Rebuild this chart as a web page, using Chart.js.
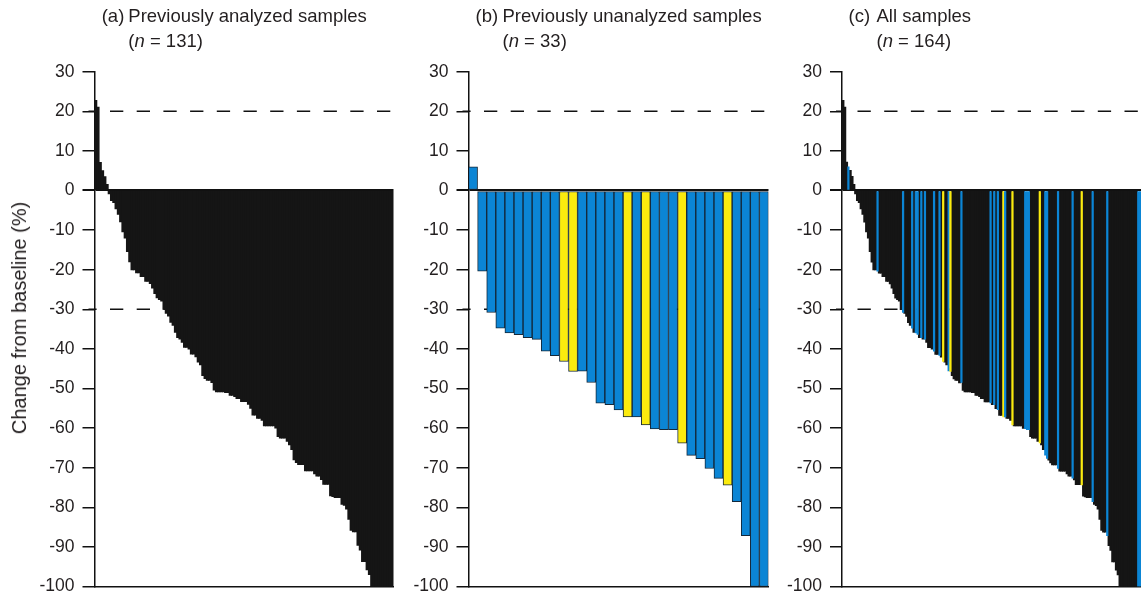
<!DOCTYPE html>
<html>
<head>
<meta charset="utf-8">
<title>Waterfall plots</title>
<script src="https://cdn.jsdelivr.net/npm/chart.js@4.4.1/dist/chart.umd.min.js"></script>
<style>
    html, body { margin: 0; padding: 0; background: #fff; }
    #wrap { position: relative; width: 1141px; height: 605px; overflow: hidden;
            font-family: 'Liberation Sans', Arial, sans-serif; color: #231f20; }
    canvas { position: absolute; top: 0; }
    .ttl { position: absolute; top: 2.6px; font-size: 18.5px; line-height: 25px; white-space: nowrap; }
    #ytitle { position: absolute; left: 19px; top: 318px; font-size: 20px; line-height: 22px; white-space: nowrap;
              transform: translate(-50%, -50%) rotate(-90deg); }
</style>
</head>
<body>
<div id="wrap">
    <canvas id="panel-a" width="400" height="605" style="left:0px"></canvas>
    <canvas id="panel-b" width="400" height="605" style="left:374px"></canvas>
    <canvas id="panel-c" width="393" height="605" style="left:748px"></canvas>

    <div class="ttl" style="left:101.7px">(a)</div>
    <div class="ttl" style="left:128.3px">Previously analyzed samples<br>(<i>n</i> = <span id="n-a"></span>)</div>
    <div class="ttl" style="left:475.5px">(b)</div>
    <div class="ttl" style="left:502.5px">Previously unanalyzed samples<br>(<i>n</i> = <span id="n-b"></span>)</div>
    <div class="ttl" style="left:848.5px">(c)</div>
    <div class="ttl" style="left:876.5px">All samples<br>(<i>n</i> = <span id="n-c"></span>)</div>
    <div id="ytitle">Change from baseline (%)</div>
</div>

<script>
// change from baseline (%), one value per sample
const prevAnalyzed = [
    22.7, 21, 7.1, 5, 3.5, 1.5, -0.8, -2.5, -3, -4.6,
    -6, -7.9, -10.4, -12, -15.4, -18, -20, -20, -20.8, -20.8,
    -21.7, -21.7, -22.9, -22.9, -23.5, -24.6, -26, -27.1, -27.5, -27.9,
    -30, -31, -31.7, -33.3, -34, -35.8, -37.1, -37.5, -38.3, -39.6,
    -39.6, -40, -41.3, -41.3, -42, -43.3, -44, -46.7, -47.5, -47.9,
    -47.9, -48.5, -50.4, -50.8, -50.8, -50.8, -50.8, -51, -51, -51.7,
    -51.7, -52, -52.5, -52.5, -53.3, -53.3, -53.3, -54, -55, -56.7,
    -56.7, -57.5, -57.5, -58, -59.4, -59.4, -59.4, -59.4, -59.4, -60,
    -62.1, -62.5, -62.5, -62.5, -63.3, -64.2, -65.4, -68, -68.7, -69.2,
    -69.2, -69.2, -70.8, -70.8, -70.8, -70.8, -71.5, -72.1, -72.1, -73,
    -74.2, -74.2, -74.2, -77.1, -77.3, -77.5, -77.5, -77.5, -79.2, -79.5,
    -80.4, -83, -85.8, -86.2, -86.2, -89.6, -90.8, -93.7, -93.7, -95.8,
    -97, -100, -100, -100, -100, -100, -100, -100, -100, -100,
    -100
];

const prevUnanalyzed = [
    6, -20.4, -30.8, -34.8, -36, -36.4, -37.2, -37.6, -40.6, -41.7,
    -43.2, -45.7, -45.6, -48.5, -53.7, -54.1, -55.4, -57.2, -57.2, -59.2,
    -60.2, -60.4, -60.4, -63.8, -66.9, -67.7, -70.2, -72.7, -74.4, -78.6,
    -87.2, -100, -100
];

// positions (1-based) of the yellow samples in panel (b)
const yellowSamples = [11, 12, 18, 20, 24, 29];

const yAxisRange = { min: -100, max: 30, step: 10 };
const refLines = [20, -30];

const FONT = "'Liberation Sans', Arial, sans-serif";
const INK = '#231f20';
const COLORS = { a: '#151515', b: '#0b85d5', y: '#fbeb0e' };

// panel (c): both groups together, sorted from best to worst
const allSamples = prevAnalyzed.map(v => ({ v: v, group: 'a' }))
    .concat(prevUnanalyzed.map((v, i) => ({ v: v, group: yellowSamples.includes(i + 1) ? 'y' : 'b' })))
    .sort((p, q) => q.v - p.v);

const refLinePlugin = {
    id: 'refLines',
    beforeDatasetsDraw(chart) {
        const { ctx, chartArea, scales } = chart;
        ctx.save();
        ctx.strokeStyle = '#111';
        ctx.lineWidth = 1.5;
        ctx.setLineDash([13.3, 13.4]);
        ctx.lineDashOffset = 5.2;
        refLines.forEach(v => {
            const py = scales.y.getPixelForValue(v);
            ctx.beginPath();
            ctx.moveTo(chartArea.left - 6, py);
            ctx.lineTo(chartArea.right + 4, py);
            ctx.stroke();
        });
        ctx.restore();
    }
};

function barSet(values, colors, extra) {
    return {
        data: values,
        backgroundColor: colors,
        borderColor: extra.borderColor || colors,
        borderWidth: extra.borderWidth || 0,
        borderSkipped: false,
        inflateAmount: extra.inflate,
        barPercentage: 1,
        categoryPercentage: 1,
        grouped: false
    };
}

function makePanel(id, labels, datasets, extra) {
    return new Chart(document.getElementById(id), {
        type: 'bar',
        data: { labels: labels, datasets: datasets },
        options: {
            responsive: false,
            animation: false,
            devicePixelRatio: 1,
            layout: { padding: { top: 71.7, bottom: 13.3, left: extra.padLeft, right: extra.padRight } },
            plugins: { legend: { display: false }, tooltip: { enabled: false } },
            scales: {
                x: {
                    ticks: { display: false },
                    grid: { drawOnChartArea: false, drawTicks: false },
                    border: { color: '#111', width: 1.5 },
                    afterFit: s => { s.height = 0; }
                },
                y: {
                    min: yAxisRange.min,
                    max: yAxisRange.max,
                    ticks: {
                        stepSize: yAxisRange.step,
                        color: INK,
                        padding: 8,
                        font: { family: FONT, size: 17.5 }
                    },
                    grid: {
                        color: c => (c.tick && c.tick.value === 0) ? '#111' : 'rgba(0,0,0,0)',
                        lineWidth: c => (c.tick && c.tick.value === 0) ? 2 : 1.5,
                        tickColor: '#111',
                        tickLength: 12
                    },
                    border: { color: '#111', width: 1.5 },
                    afterFit: s => { s.width = 94; }
                }
            }
        },
        plugins: [refLinePlugin]
    });
}

makePanel('panel-a', prevAnalyzed.map((_, i) => i + 1),
    [barSet(prevAnalyzed, COLORS.a, { inflate: 0.5 })],
    { padLeft: 0.5, padRight: 6.5 });

makePanel('panel-b', prevUnanalyzed.map((_, i) => i + 1),
    [barSet(prevUnanalyzed,
        prevUnanalyzed.map((_, i) => yellowSamples.includes(i + 1) ? COLORS.y : COLORS.b),
        { inflate: 0.3, borderWidth: 1, borderColor: '#14283a' })],
    { padLeft: 0.5, padRight: 5.5 });

// coloured samples as the first dataset so they are drawn over the black ones
makePanel('panel-c', allSamples.map((_, i) => i + 1),
    [
        barSet(allSamples.map(s => s.group === 'a' ? null : s.v),
            allSamples.map(s => COLORS[s.group]), { inflate: 0.2 }),
        barSet(allSamples.map(s => s.group === 'a' ? s.v : null), COLORS.a, { inflate: 0.6 })
    ],
    { padLeft: 0, padRight: 0 });

document.getElementById('n-a').textContent = prevAnalyzed.length;
document.getElementById('n-b').textContent = prevUnanalyzed.length;
document.getElementById('n-c').textContent = allSamples.length;
</script>
</body>
</html>
